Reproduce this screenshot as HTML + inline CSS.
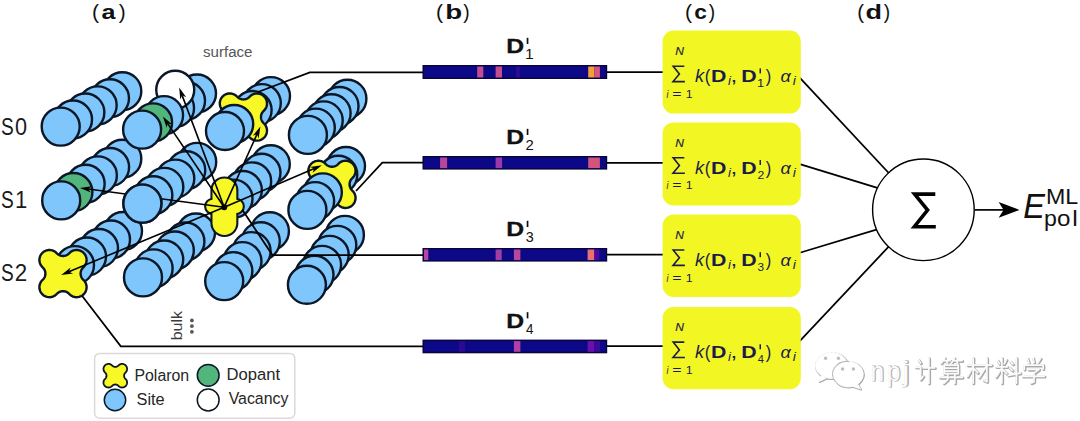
<!DOCTYPE html>
<html><head><meta charset="utf-8"><title>figure</title>
<style>
html,body{margin:0;padding:0;background:#fff;}
body{width:1080px;height:421px;overflow:hidden;font-family:"Liberation Sans",sans-serif;}
svg{display:block;}
</style></head><body>
<svg width="1080" height="421" viewBox="0 0 1080 421" font-family="'Liberation Sans', sans-serif">
<rect x="0" y="0" width="1080" height="421" fill="#ffffff"/>
<circle cx="123.00" cy="231.00" r="19.00" fill="#7ec6fb" stroke="#0b1626" stroke-width="2.40"/>
<circle cx="111.00" cy="239.52" r="19.00" fill="#7ec6fb" stroke="#0b1626" stroke-width="2.40"/>
<circle cx="99.00" cy="248.04" r="19.00" fill="#7ec6fb" stroke="#0b1626" stroke-width="2.40"/>
<circle cx="87.00" cy="256.56" r="19.00" fill="#7ec6fb" stroke="#0b1626" stroke-width="2.40"/>
<circle cx="75.00" cy="265.08" r="19.00" fill="#7ec6fb" stroke="#0b1626" stroke-width="2.40"/>
<path d="M6.21,-20.34 L7.19,-21.27 L8.27,-22.06 L9.46,-22.70 L10.72,-23.18 L12.03,-23.48 L13.37,-23.60 L14.72,-23.54 L16.04,-23.30 L17.32,-22.88 L18.53,-22.30 L19.66,-21.56 L20.67,-20.67 L21.56,-19.66 L22.30,-18.53 L22.88,-17.32 L23.30,-16.04 L23.54,-14.72 L23.60,-13.37 L23.48,-12.03 L23.18,-10.72 L22.70,-9.46 L22.06,-8.27 L21.27,-7.19 L20.34,-6.21 L19.93,-5.81 L19.54,-5.37 L19.18,-4.91 L18.86,-4.43 L18.57,-3.92 L18.32,-3.40 L18.10,-2.86 L17.92,-2.30 L17.78,-1.74 L17.68,-1.16 L17.62,-0.58 L17.60,0.00 L17.62,0.58 L17.68,1.16 L17.78,1.74 L17.92,2.30 L18.10,2.86 L18.32,3.40 L18.57,3.92 L18.86,4.43 L19.18,4.91 L19.54,5.37 L19.93,5.81 L20.34,6.21 L21.27,7.19 L22.06,8.27 L22.70,9.46 L23.18,10.72 L23.48,12.03 L23.60,13.37 L23.54,14.72 L23.30,16.04 L22.88,17.32 L22.30,18.53 L21.56,19.66 L20.67,20.67 L19.66,21.56 L18.53,22.30 L17.32,22.88 L16.04,23.30 L14.72,23.54 L13.37,23.60 L12.03,23.48 L10.72,23.18 L9.46,22.70 L8.27,22.06 L7.19,21.27 L6.21,20.34 L5.81,19.93 L5.37,19.54 L4.91,19.18 L4.43,18.86 L3.92,18.57 L3.40,18.32 L2.86,18.10 L2.30,17.92 L1.74,17.78 L1.16,17.68 L0.58,17.62 L0.00,17.60 L-0.58,17.62 L-1.16,17.68 L-1.74,17.78 L-2.30,17.92 L-2.86,18.10 L-3.40,18.32 L-3.92,18.57 L-4.43,18.86 L-4.91,19.18 L-5.37,19.54 L-5.81,19.93 L-6.21,20.34 L-7.19,21.27 L-8.27,22.06 L-9.46,22.70 L-10.72,23.18 L-12.03,23.48 L-13.37,23.60 L-14.72,23.54 L-16.04,23.30 L-17.32,22.88 L-18.53,22.30 L-19.66,21.56 L-20.67,20.67 L-21.56,19.66 L-22.30,18.53 L-22.88,17.32 L-23.30,16.04 L-23.54,14.72 L-23.60,13.37 L-23.48,12.03 L-23.18,10.72 L-22.70,9.46 L-22.06,8.27 L-21.27,7.19 L-20.34,6.21 L-19.93,5.81 L-19.54,5.37 L-19.18,4.91 L-18.86,4.43 L-18.57,3.92 L-18.32,3.40 L-18.10,2.86 L-17.92,2.30 L-17.78,1.74 L-17.68,1.16 L-17.62,0.58 L-17.60,0.00 L-17.62,-0.58 L-17.68,-1.16 L-17.78,-1.74 L-17.92,-2.30 L-18.10,-2.86 L-18.32,-3.40 L-18.57,-3.92 L-18.86,-4.43 L-19.18,-4.91 L-19.54,-5.37 L-19.93,-5.81 L-20.34,-6.21 L-21.27,-7.19 L-22.06,-8.27 L-22.70,-9.46 L-23.18,-10.72 L-23.48,-12.03 L-23.60,-13.37 L-23.54,-14.72 L-23.30,-16.04 L-22.88,-17.32 L-22.30,-18.53 L-21.56,-19.66 L-20.67,-20.67 L-19.66,-21.56 L-18.53,-22.30 L-17.32,-22.88 L-16.04,-23.30 L-14.72,-23.54 L-13.37,-23.60 L-12.03,-23.48 L-10.72,-23.18 L-9.46,-22.70 L-8.27,-22.06 L-7.19,-21.27 L-6.21,-20.34 L-5.81,-19.93 L-5.37,-19.54 L-4.91,-19.18 L-4.43,-18.86 L-3.92,-18.57 L-3.40,-18.32 L-2.86,-18.10 L-2.30,-17.92 L-1.74,-17.78 L-1.16,-17.68 L-0.58,-17.62 L-0.00,-17.60 L0.58,-17.62 L1.16,-17.68 L1.74,-17.78 L2.30,-17.92 L2.86,-18.10 L3.40,-18.32 L3.92,-18.57 L4.43,-18.86 L4.91,-19.18 L5.37,-19.54 L5.81,-19.93 Z" transform="translate(63.00 273.60) scale(1.000)" fill="#f8f826" stroke="#0b1626" stroke-width="2.40" stroke-linejoin="round"/>
<circle cx="196.00" cy="232.50" r="19.00" fill="#7ec6fb" stroke="#0b1626" stroke-width="2.40"/>
<circle cx="185.40" cy="241.48" r="19.00" fill="#7ec6fb" stroke="#0b1626" stroke-width="2.40"/>
<circle cx="174.80" cy="250.46" r="19.00" fill="#7ec6fb" stroke="#0b1626" stroke-width="2.40"/>
<circle cx="164.20" cy="259.44" r="19.00" fill="#7ec6fb" stroke="#0b1626" stroke-width="2.40"/>
<circle cx="153.60" cy="268.42" r="19.00" fill="#7ec6fb" stroke="#0b1626" stroke-width="2.40"/>
<circle cx="143.00" cy="277.40" r="19.00" fill="#7ec6fb" stroke="#0b1626" stroke-width="2.40"/>
<circle cx="269.90" cy="231.20" r="19.00" fill="#7ec6fb" stroke="#0b1626" stroke-width="2.40"/>
<circle cx="260.76" cy="241.18" r="19.00" fill="#7ec6fb" stroke="#0b1626" stroke-width="2.40"/>
<circle cx="251.62" cy="251.16" r="19.00" fill="#7ec6fb" stroke="#0b1626" stroke-width="2.40"/>
<circle cx="242.48" cy="261.14" r="19.00" fill="#7ec6fb" stroke="#0b1626" stroke-width="2.40"/>
<circle cx="233.34" cy="271.12" r="19.00" fill="#7ec6fb" stroke="#0b1626" stroke-width="2.40"/>
<circle cx="224.20" cy="281.10" r="19.00" fill="#7ec6fb" stroke="#0b1626" stroke-width="2.40"/>
<circle cx="344.90" cy="234.90" r="19.00" fill="#7ec6fb" stroke="#0b1626" stroke-width="2.40"/>
<circle cx="337.30" cy="244.88" r="19.00" fill="#7ec6fb" stroke="#0b1626" stroke-width="2.40"/>
<circle cx="329.70" cy="254.86" r="19.00" fill="#7ec6fb" stroke="#0b1626" stroke-width="2.40"/>
<circle cx="322.10" cy="264.84" r="19.00" fill="#7ec6fb" stroke="#0b1626" stroke-width="2.40"/>
<circle cx="314.50" cy="274.82" r="19.00" fill="#7ec6fb" stroke="#0b1626" stroke-width="2.40"/>
<circle cx="306.90" cy="284.80" r="19.00" fill="#7ec6fb" stroke="#0b1626" stroke-width="2.40"/>
<circle cx="122.30" cy="158.70" r="19.00" fill="#7ec6fb" stroke="#0b1626" stroke-width="2.40"/>
<circle cx="110.08" cy="167.04" r="19.00" fill="#7ec6fb" stroke="#0b1626" stroke-width="2.40"/>
<circle cx="97.86" cy="175.38" r="19.00" fill="#7ec6fb" stroke="#0b1626" stroke-width="2.40"/>
<circle cx="85.64" cy="183.72" r="19.00" fill="#7ec6fb" stroke="#0b1626" stroke-width="2.40"/>
<circle cx="73.42" cy="192.06" r="19.00" fill="#52b67c" stroke="#0b1626" stroke-width="2.40"/>
<circle cx="61.20" cy="200.40" r="19.00" fill="#7ec6fb" stroke="#0b1626" stroke-width="2.40"/>
<circle cx="197.20" cy="161.90" r="19.00" fill="#7ec6fb" stroke="#0b1626" stroke-width="2.40"/>
<circle cx="186.24" cy="170.24" r="19.00" fill="#7ec6fb" stroke="#0b1626" stroke-width="2.40"/>
<circle cx="175.28" cy="178.58" r="19.00" fill="#7ec6fb" stroke="#0b1626" stroke-width="2.40"/>
<circle cx="164.32" cy="186.92" r="19.00" fill="#7ec6fb" stroke="#0b1626" stroke-width="2.40"/>
<circle cx="153.36" cy="195.26" r="19.00" fill="#7ec6fb" stroke="#0b1626" stroke-width="2.40"/>
<circle cx="142.40" cy="203.60" r="19.00" fill="#7ec6fb" stroke="#0b1626" stroke-width="2.40"/>
<circle cx="270.80" cy="164.20" r="19.00" fill="#7ec6fb" stroke="#0b1626" stroke-width="2.40"/>
<circle cx="261.48" cy="172.80" r="19.00" fill="#7ec6fb" stroke="#0b1626" stroke-width="2.40"/>
<circle cx="252.16" cy="181.40" r="19.00" fill="#7ec6fb" stroke="#0b1626" stroke-width="2.40"/>
<circle cx="242.84" cy="190.00" r="19.00" fill="#7ec6fb" stroke="#0b1626" stroke-width="2.40"/>
<circle cx="233.52" cy="198.60" r="19.00" fill="#7ec6fb" stroke="#0b1626" stroke-width="2.40"/>
<!--center-->
<circle cx="346.00" cy="166.00" r="19.00" fill="#7ec6fb" stroke="#0b1626" stroke-width="2.40"/>
<circle cx="338.28" cy="174.78" r="19.00" fill="#7ec6fb" stroke="#0b1626" stroke-width="2.40"/>
<path d="M6.21,-20.34 L7.19,-21.27 L8.27,-22.06 L9.46,-22.70 L10.72,-23.18 L12.03,-23.48 L13.37,-23.60 L14.72,-23.54 L16.04,-23.30 L17.32,-22.88 L18.53,-22.30 L19.66,-21.56 L20.67,-20.67 L21.56,-19.66 L22.30,-18.53 L22.88,-17.32 L23.30,-16.04 L23.54,-14.72 L23.60,-13.37 L23.48,-12.03 L23.18,-10.72 L22.70,-9.46 L22.06,-8.27 L21.27,-7.19 L20.34,-6.21 L19.93,-5.81 L19.54,-5.37 L19.18,-4.91 L18.86,-4.43 L18.57,-3.92 L18.32,-3.40 L18.10,-2.86 L17.92,-2.30 L17.78,-1.74 L17.68,-1.16 L17.62,-0.58 L17.60,0.00 L17.62,0.58 L17.68,1.16 L17.78,1.74 L17.92,2.30 L18.10,2.86 L18.32,3.40 L18.57,3.92 L18.86,4.43 L19.18,4.91 L19.54,5.37 L19.93,5.81 L20.34,6.21 L21.27,7.19 L22.06,8.27 L22.70,9.46 L23.18,10.72 L23.48,12.03 L23.60,13.37 L23.54,14.72 L23.30,16.04 L22.88,17.32 L22.30,18.53 L21.56,19.66 L20.67,20.67 L19.66,21.56 L18.53,22.30 L17.32,22.88 L16.04,23.30 L14.72,23.54 L13.37,23.60 L12.03,23.48 L10.72,23.18 L9.46,22.70 L8.27,22.06 L7.19,21.27 L6.21,20.34 L5.81,19.93 L5.37,19.54 L4.91,19.18 L4.43,18.86 L3.92,18.57 L3.40,18.32 L2.86,18.10 L2.30,17.92 L1.74,17.78 L1.16,17.68 L0.58,17.62 L0.00,17.60 L-0.58,17.62 L-1.16,17.68 L-1.74,17.78 L-2.30,17.92 L-2.86,18.10 L-3.40,18.32 L-3.92,18.57 L-4.43,18.86 L-4.91,19.18 L-5.37,19.54 L-5.81,19.93 L-6.21,20.34 L-7.19,21.27 L-8.27,22.06 L-9.46,22.70 L-10.72,23.18 L-12.03,23.48 L-13.37,23.60 L-14.72,23.54 L-16.04,23.30 L-17.32,22.88 L-18.53,22.30 L-19.66,21.56 L-20.67,20.67 L-21.56,19.66 L-22.30,18.53 L-22.88,17.32 L-23.30,16.04 L-23.54,14.72 L-23.60,13.37 L-23.48,12.03 L-23.18,10.72 L-22.70,9.46 L-22.06,8.27 L-21.27,7.19 L-20.34,6.21 L-19.93,5.81 L-19.54,5.37 L-19.18,4.91 L-18.86,4.43 L-18.57,3.92 L-18.32,3.40 L-18.10,2.86 L-17.92,2.30 L-17.78,1.74 L-17.68,1.16 L-17.62,0.58 L-17.60,0.00 L-17.62,-0.58 L-17.68,-1.16 L-17.78,-1.74 L-17.92,-2.30 L-18.10,-2.86 L-18.32,-3.40 L-18.57,-3.92 L-18.86,-4.43 L-19.18,-4.91 L-19.54,-5.37 L-19.93,-5.81 L-20.34,-6.21 L-21.27,-7.19 L-22.06,-8.27 L-22.70,-9.46 L-23.18,-10.72 L-23.48,-12.03 L-23.60,-13.37 L-23.54,-14.72 L-23.30,-16.04 L-22.88,-17.32 L-22.30,-18.53 L-21.56,-19.66 L-20.67,-20.67 L-19.66,-21.56 L-18.53,-22.30 L-17.32,-22.88 L-16.04,-23.30 L-14.72,-23.54 L-13.37,-23.60 L-12.03,-23.48 L-10.72,-23.18 L-9.46,-22.70 L-8.27,-22.06 L-7.19,-21.27 L-6.21,-20.34 L-5.81,-19.93 L-5.37,-19.54 L-4.91,-19.18 L-4.43,-18.86 L-3.92,-18.57 L-3.40,-18.32 L-2.86,-18.10 L-2.30,-17.92 L-1.74,-17.78 L-1.16,-17.68 L-0.58,-17.62 L-0.00,-17.60 L0.58,-17.62 L1.16,-17.68 L1.74,-17.78 L2.30,-17.92 L2.86,-18.10 L3.40,-18.32 L3.92,-18.57 L4.43,-18.86 L4.91,-19.18 L5.37,-19.54 L5.81,-19.93 Z" transform="translate(331.96 184.36) scale(1.000)" fill="#f8f826" stroke="#0b1626" stroke-width="2.40" stroke-linejoin="round"/>
<circle cx="322.84" cy="192.34" r="19.00" fill="#7ec6fb" stroke="#0b1626" stroke-width="2.40"/>
<circle cx="315.12" cy="201.12" r="19.00" fill="#7ec6fb" stroke="#0b1626" stroke-width="2.40"/>
<circle cx="307.40" cy="209.90" r="19.00" fill="#7ec6fb" stroke="#0b1626" stroke-width="2.40"/>
<circle cx="122.30" cy="91.20" r="19.00" fill="#7ec6fb" stroke="#0b1626" stroke-width="2.40"/>
<circle cx="109.98" cy="98.28" r="19.00" fill="#7ec6fb" stroke="#0b1626" stroke-width="2.40"/>
<circle cx="97.66" cy="105.36" r="19.00" fill="#7ec6fb" stroke="#0b1626" stroke-width="2.40"/>
<circle cx="85.34" cy="112.44" r="19.00" fill="#7ec6fb" stroke="#0b1626" stroke-width="2.40"/>
<circle cx="73.02" cy="119.52" r="19.00" fill="#7ec6fb" stroke="#0b1626" stroke-width="2.40"/>
<circle cx="60.70" cy="126.60" r="19.00" fill="#7ec6fb" stroke="#0b1626" stroke-width="2.40"/>
<circle cx="197.00" cy="93.50" r="19.00" fill="#7ec6fb" stroke="#0b1626" stroke-width="2.40"/>
<circle cx="186.02" cy="100.72" r="19.00" fill="#7ec6fb" stroke="#0b1626" stroke-width="2.40"/>
<circle cx="175.04" cy="107.94" r="19.00" fill="#7ec6fb" stroke="#0b1626" stroke-width="2.40"/>
<circle cx="175.24" cy="89.74" r="19.00" fill="#ffffff" stroke="#0b1626" stroke-width="2.40"/>
<circle cx="164.06" cy="115.16" r="19.00" fill="#7ec6fb" stroke="#0b1626" stroke-width="2.40"/>
<circle cx="153.08" cy="122.38" r="19.00" fill="#52b67c" stroke="#0b1626" stroke-width="2.40"/>
<circle cx="142.10" cy="129.60" r="19.00" fill="#7ec6fb" stroke="#0b1626" stroke-width="2.40"/>
<circle cx="271.00" cy="96.10" r="19.00" fill="#7ec6fb" stroke="#0b1626" stroke-width="2.40"/>
<circle cx="261.80" cy="103.08" r="19.00" fill="#7ec6fb" stroke="#0b1626" stroke-width="2.40"/>
<circle cx="252.60" cy="110.06" r="19.00" fill="#7ec6fb" stroke="#0b1626" stroke-width="2.40"/>
<path d="M6.21,-20.34 L7.19,-21.27 L8.27,-22.06 L9.46,-22.70 L10.72,-23.18 L12.03,-23.48 L13.37,-23.60 L14.72,-23.54 L16.04,-23.30 L17.32,-22.88 L18.53,-22.30 L19.66,-21.56 L20.67,-20.67 L21.56,-19.66 L22.30,-18.53 L22.88,-17.32 L23.30,-16.04 L23.54,-14.72 L23.60,-13.37 L23.48,-12.03 L23.18,-10.72 L22.70,-9.46 L22.06,-8.27 L21.27,-7.19 L20.34,-6.21 L19.93,-5.81 L19.54,-5.37 L19.18,-4.91 L18.86,-4.43 L18.57,-3.92 L18.32,-3.40 L18.10,-2.86 L17.92,-2.30 L17.78,-1.74 L17.68,-1.16 L17.62,-0.58 L17.60,0.00 L17.62,0.58 L17.68,1.16 L17.78,1.74 L17.92,2.30 L18.10,2.86 L18.32,3.40 L18.57,3.92 L18.86,4.43 L19.18,4.91 L19.54,5.37 L19.93,5.81 L20.34,6.21 L21.27,7.19 L22.06,8.27 L22.70,9.46 L23.18,10.72 L23.48,12.03 L23.60,13.37 L23.54,14.72 L23.30,16.04 L22.88,17.32 L22.30,18.53 L21.56,19.66 L20.67,20.67 L19.66,21.56 L18.53,22.30 L17.32,22.88 L16.04,23.30 L14.72,23.54 L13.37,23.60 L12.03,23.48 L10.72,23.18 L9.46,22.70 L8.27,22.06 L7.19,21.27 L6.21,20.34 L5.81,19.93 L5.37,19.54 L4.91,19.18 L4.43,18.86 L3.92,18.57 L3.40,18.32 L2.86,18.10 L2.30,17.92 L1.74,17.78 L1.16,17.68 L0.58,17.62 L0.00,17.60 L-0.58,17.62 L-1.16,17.68 L-1.74,17.78 L-2.30,17.92 L-2.86,18.10 L-3.40,18.32 L-3.92,18.57 L-4.43,18.86 L-4.91,19.18 L-5.37,19.54 L-5.81,19.93 L-6.21,20.34 L-7.19,21.27 L-8.27,22.06 L-9.46,22.70 L-10.72,23.18 L-12.03,23.48 L-13.37,23.60 L-14.72,23.54 L-16.04,23.30 L-17.32,22.88 L-18.53,22.30 L-19.66,21.56 L-20.67,20.67 L-21.56,19.66 L-22.30,18.53 L-22.88,17.32 L-23.30,16.04 L-23.54,14.72 L-23.60,13.37 L-23.48,12.03 L-23.18,10.72 L-22.70,9.46 L-22.06,8.27 L-21.27,7.19 L-20.34,6.21 L-19.93,5.81 L-19.54,5.37 L-19.18,4.91 L-18.86,4.43 L-18.57,3.92 L-18.32,3.40 L-18.10,2.86 L-17.92,2.30 L-17.78,1.74 L-17.68,1.16 L-17.62,0.58 L-17.60,0.00 L-17.62,-0.58 L-17.68,-1.16 L-17.78,-1.74 L-17.92,-2.30 L-18.10,-2.86 L-18.32,-3.40 L-18.57,-3.92 L-18.86,-4.43 L-19.18,-4.91 L-19.54,-5.37 L-19.93,-5.81 L-20.34,-6.21 L-21.27,-7.19 L-22.06,-8.27 L-22.70,-9.46 L-23.18,-10.72 L-23.48,-12.03 L-23.60,-13.37 L-23.54,-14.72 L-23.30,-16.04 L-22.88,-17.32 L-22.30,-18.53 L-21.56,-19.66 L-20.67,-20.67 L-19.66,-21.56 L-18.53,-22.30 L-17.32,-22.88 L-16.04,-23.30 L-14.72,-23.54 L-13.37,-23.60 L-12.03,-23.48 L-10.72,-23.18 L-9.46,-22.70 L-8.27,-22.06 L-7.19,-21.27 L-6.21,-20.34 L-5.81,-19.93 L-5.37,-19.54 L-4.91,-19.18 L-4.43,-18.86 L-3.92,-18.57 L-3.40,-18.32 L-2.86,-18.10 L-2.30,-17.92 L-1.74,-17.78 L-1.16,-17.68 L-0.58,-17.62 L-0.00,-17.60 L0.58,-17.62 L1.16,-17.68 L1.74,-17.78 L2.30,-17.92 L2.86,-18.10 L3.40,-18.32 L3.92,-18.57 L4.43,-18.86 L4.91,-19.18 L5.37,-19.54 L5.81,-19.93 Z" transform="translate(243.40 117.04) scale(1.000)" fill="#f8f826" stroke="#0b1626" stroke-width="2.40" stroke-linejoin="round"/>
<circle cx="234.20" cy="124.02" r="19.00" fill="#7ec6fb" stroke="#0b1626" stroke-width="2.40"/>
<circle cx="225.00" cy="131.00" r="19.00" fill="#7ec6fb" stroke="#0b1626" stroke-width="2.40"/>
<circle cx="347.40" cy="98.70" r="19.00" fill="#7ec6fb" stroke="#0b1626" stroke-width="2.40"/>
<circle cx="339.50" cy="105.94" r="19.00" fill="#7ec6fb" stroke="#0b1626" stroke-width="2.40"/>
<circle cx="331.60" cy="113.18" r="19.00" fill="#7ec6fb" stroke="#0b1626" stroke-width="2.40"/>
<circle cx="323.70" cy="120.42" r="19.00" fill="#7ec6fb" stroke="#0b1626" stroke-width="2.40"/>
<circle cx="315.80" cy="127.66" r="19.00" fill="#7ec6fb" stroke="#0b1626" stroke-width="2.40"/>
<circle cx="307.90" cy="134.90" r="19.00" fill="#7ec6fb" stroke="#0b1626" stroke-width="2.40"/>
<rect x="212.50" y="178.50" width="23.80" height="56.40" rx="11.9" ry="11.9" fill="#0b1626" stroke="#0b1626" stroke-width="4.20"/>
<circle cx="212.80" cy="206.40" r="6.6" fill="#0b1626" stroke="#0b1626" stroke-width="4.20"/>
<circle cx="236.20" cy="206.40" r="6.6" fill="#0b1626" stroke="#0b1626" stroke-width="4.20"/>
<rect x="212.50" y="178.50" width="23.80" height="56.40" rx="11.9" ry="11.9" fill="#f8f826"/>
<circle cx="212.80" cy="206.40" r="6.6" fill="#f8f826"/>
<circle cx="236.20" cy="206.40" r="6.6" fill="#f8f826"/>
<polyline points="258.00,92.00 309.80,72.40 423.00,72.40" fill="none" stroke="#000" stroke-width="1.75" stroke-linejoin="miter"/>
<polyline points="356.00,191.00 382.30,162.60 423.00,162.60" fill="none" stroke="#000" stroke-width="1.75" stroke-linejoin="miter"/>
<polyline points="242.30,209.80 272.40,255.00 423.00,255.00" fill="none" stroke="#000" stroke-width="1.75" stroke-linejoin="miter"/>
<polyline points="82.20,296.00 120.80,346.40 423.00,346.40" fill="none" stroke="#000" stroke-width="1.75" stroke-linejoin="miter"/>
<line x1="224.20" y1="207.20" x2="182.12" y2="95.37" stroke="#000" stroke-width="1.60"/><polygon points="179.20,87.60 186.24,97.24 182.12,95.37 180.25,99.49" fill="#000"/>
<line x1="224.20" y1="207.20" x2="167.55" y2="123.38" stroke="#000" stroke-width="1.60"/><polygon points="162.90,116.50 171.99,124.24 167.55,123.38 166.69,127.82" fill="#000"/>
<line x1="224.20" y1="207.20" x2="88.13" y2="189.00" stroke="#000" stroke-width="1.60"/><polygon points="79.90,187.90 91.72,186.25 88.13,189.00 90.87,192.60" fill="#000"/>
<line x1="224.20" y1="207.20" x2="68.87" y2="271.72" stroke="#000" stroke-width="1.60"/><polygon points="61.20,274.90 70.59,267.53 68.87,271.72 73.05,273.44" fill="#000"/>
<line x1="224.20" y1="207.20" x2="257.00" y2="134.17" stroke="#000" stroke-width="1.60"/><polygon points="260.40,126.60 258.61,138.40 257.00,134.17 252.77,135.78" fill="#000"/>
<line x1="224.20" y1="207.20" x2="314.27" y2="168.57" stroke="#000" stroke-width="1.60"/><polygon points="321.90,165.30 312.59,172.77 314.27,168.57 310.07,166.89" fill="#000"/>
<circle cx="224.20" cy="207.20" r="3" fill="#000"/>
<circle cx="142.40" cy="203.60" r="19.00" fill="#7ec6fb" stroke="#0b1626" stroke-width="2.40"/>
<text transform="translate(0.92 134.70) scale(0.8092 1)" font-size="23.60" font-weight="normal" font-style="normal" fill="#1a1a1a" >S</text>
<text transform="translate(14.88 134.70) scale(0.9181 1)" font-size="23.60" font-weight="normal" font-style="normal" fill="#1a1a1a" >0</text>
<text transform="translate(0.92 208.40) scale(0.8092 1)" font-size="23.60" font-weight="normal" font-style="normal" fill="#1a1a1a" >S</text>
<text transform="translate(14.93 208.40) scale(0.9318 1)" font-size="23.60" font-weight="normal" font-style="normal" fill="#1a1a1a" >1</text>
<text transform="translate(0.92 281.40) scale(0.8092 1)" font-size="23.60" font-weight="normal" font-style="normal" fill="#1a1a1a" >S</text>
<text transform="translate(14.78 281.40) scale(0.9478 1)" font-size="23.60" font-weight="normal" font-style="normal" fill="#1a1a1a" >2</text>
<text x="203.00" y="56.70" font-size="15.10" font-weight="normal" font-style="normal" fill="#555" text-anchor="start" >surface</text>
<text transform="translate(181.8 340.3) rotate(-90) scale(1.04 0.96)" font-size="15.4" fill="#3c3c3c">bulk</text>
<circle cx="191.9" cy="320.4" r="1.9" fill="#555"/>
<circle cx="191.9" cy="326.1" r="1.9" fill="#555"/>
<circle cx="191.9" cy="331.8" r="1.9" fill="#555"/>
<text transform="translate(91.98 18.60) scale(1.0606 1)" font-size="20.00" font-weight="normal" font-style="normal" fill="#111" >(</text><text transform="translate(101.44 18.90) scale(1.1994 1)" font-size="21.00" font-weight="bold" font-style="normal" fill="#111" >a</text><text transform="translate(118.78 18.60) scale(1.0338 1)" font-size="20.00" font-weight="normal" font-style="normal" fill="#111" >)</text>
<text transform="translate(435.98 18.60) scale(1.0606 1)" font-size="20.00" font-weight="normal" font-style="normal" fill="#111" >(</text><text transform="translate(445.27 18.90) scale(1.3228 1)" font-size="21.00" font-weight="bold" font-style="normal" fill="#111" >b</text><text transform="translate(463.18 18.60) scale(0.9586 1)" font-size="20.00" font-weight="normal" font-style="normal" fill="#111" >)</text>
<text transform="translate(684.88 18.60) scale(1.0606 1)" font-size="20.00" font-weight="normal" font-style="normal" fill="#111" >(</text><text transform="translate(694.24 18.90) scale(1.0831 1)" font-size="21.00" font-weight="bold" font-style="normal" fill="#111" >c</text><text transform="translate(708.78 18.60) scale(0.9586 1)" font-size="20.00" font-weight="normal" font-style="normal" fill="#111" >)</text>
<text transform="translate(857.13 18.60) scale(1.0227 1)" font-size="20.00" font-weight="normal" font-style="normal" fill="#111" >(</text><text transform="translate(865.62 18.90) scale(1.2893 1)" font-size="21.00" font-weight="bold" font-style="normal" fill="#111" >d</text><text transform="translate(883.68 18.60) scale(0.9586 1)" font-size="20.00" font-weight="normal" font-style="normal" fill="#111" >)</text>
<rect x="94.6" y="353.4" width="200.2" height="64.8" rx="5" ry="5" fill="#fff" stroke="#dadada" stroke-width="1.5"/>
<path d="M6.21,-20.34 L7.19,-21.27 L8.27,-22.06 L9.46,-22.70 L10.72,-23.18 L12.03,-23.48 L13.37,-23.60 L14.72,-23.54 L16.04,-23.30 L17.32,-22.88 L18.53,-22.30 L19.66,-21.56 L20.67,-20.67 L21.56,-19.66 L22.30,-18.53 L22.88,-17.32 L23.30,-16.04 L23.54,-14.72 L23.60,-13.37 L23.48,-12.03 L23.18,-10.72 L22.70,-9.46 L22.06,-8.27 L21.27,-7.19 L20.34,-6.21 L19.93,-5.81 L19.54,-5.37 L19.18,-4.91 L18.86,-4.43 L18.57,-3.92 L18.32,-3.40 L18.10,-2.86 L17.92,-2.30 L17.78,-1.74 L17.68,-1.16 L17.62,-0.58 L17.60,0.00 L17.62,0.58 L17.68,1.16 L17.78,1.74 L17.92,2.30 L18.10,2.86 L18.32,3.40 L18.57,3.92 L18.86,4.43 L19.18,4.91 L19.54,5.37 L19.93,5.81 L20.34,6.21 L21.27,7.19 L22.06,8.27 L22.70,9.46 L23.18,10.72 L23.48,12.03 L23.60,13.37 L23.54,14.72 L23.30,16.04 L22.88,17.32 L22.30,18.53 L21.56,19.66 L20.67,20.67 L19.66,21.56 L18.53,22.30 L17.32,22.88 L16.04,23.30 L14.72,23.54 L13.37,23.60 L12.03,23.48 L10.72,23.18 L9.46,22.70 L8.27,22.06 L7.19,21.27 L6.21,20.34 L5.81,19.93 L5.37,19.54 L4.91,19.18 L4.43,18.86 L3.92,18.57 L3.40,18.32 L2.86,18.10 L2.30,17.92 L1.74,17.78 L1.16,17.68 L0.58,17.62 L0.00,17.60 L-0.58,17.62 L-1.16,17.68 L-1.74,17.78 L-2.30,17.92 L-2.86,18.10 L-3.40,18.32 L-3.92,18.57 L-4.43,18.86 L-4.91,19.18 L-5.37,19.54 L-5.81,19.93 L-6.21,20.34 L-7.19,21.27 L-8.27,22.06 L-9.46,22.70 L-10.72,23.18 L-12.03,23.48 L-13.37,23.60 L-14.72,23.54 L-16.04,23.30 L-17.32,22.88 L-18.53,22.30 L-19.66,21.56 L-20.67,20.67 L-21.56,19.66 L-22.30,18.53 L-22.88,17.32 L-23.30,16.04 L-23.54,14.72 L-23.60,13.37 L-23.48,12.03 L-23.18,10.72 L-22.70,9.46 L-22.06,8.27 L-21.27,7.19 L-20.34,6.21 L-19.93,5.81 L-19.54,5.37 L-19.18,4.91 L-18.86,4.43 L-18.57,3.92 L-18.32,3.40 L-18.10,2.86 L-17.92,2.30 L-17.78,1.74 L-17.68,1.16 L-17.62,0.58 L-17.60,0.00 L-17.62,-0.58 L-17.68,-1.16 L-17.78,-1.74 L-17.92,-2.30 L-18.10,-2.86 L-18.32,-3.40 L-18.57,-3.92 L-18.86,-4.43 L-19.18,-4.91 L-19.54,-5.37 L-19.93,-5.81 L-20.34,-6.21 L-21.27,-7.19 L-22.06,-8.27 L-22.70,-9.46 L-23.18,-10.72 L-23.48,-12.03 L-23.60,-13.37 L-23.54,-14.72 L-23.30,-16.04 L-22.88,-17.32 L-22.30,-18.53 L-21.56,-19.66 L-20.67,-20.67 L-19.66,-21.56 L-18.53,-22.30 L-17.32,-22.88 L-16.04,-23.30 L-14.72,-23.54 L-13.37,-23.60 L-12.03,-23.48 L-10.72,-23.18 L-9.46,-22.70 L-8.27,-22.06 L-7.19,-21.27 L-6.21,-20.34 L-5.81,-19.93 L-5.37,-19.54 L-4.91,-19.18 L-4.43,-18.86 L-3.92,-18.57 L-3.40,-18.32 L-2.86,-18.10 L-2.30,-17.92 L-1.74,-17.78 L-1.16,-17.68 L-0.58,-17.62 L-0.00,-17.60 L0.58,-17.62 L1.16,-17.68 L1.74,-17.78 L2.30,-17.92 L2.86,-18.10 L3.40,-18.32 L3.92,-18.57 L4.43,-18.86 L4.91,-19.18 L5.37,-19.54 L5.81,-19.93 Z" transform="translate(115.30 375.70) scale(0.500)" fill="#f8f826" stroke="#0b1626" stroke-width="3.60" stroke-linejoin="round"/>
<circle cx="115.00" cy="400.00" r="10.70" fill="#7ec6fb" stroke="#0b1626" stroke-width="1.50"/>
<circle cx="208.20" cy="375.30" r="10.90" fill="#52b67c" stroke="#0b1626" stroke-width="1.50"/>
<circle cx="208.20" cy="400.00" r="10.90" fill="#fff" stroke="#0b1626" stroke-width="1.50"/>
<text transform="translate(134.40 381.10) scale(1.0196 1)" font-size="15.60" font-weight="normal" font-style="normal" fill="#262626" >Polaron</text>
<text transform="translate(136.55 404.90) scale(1.0481 1)" font-size="15.60" font-weight="normal" font-style="normal" fill="#262626" >Site</text>
<text transform="translate(226.54 380.00) scale(1.0654 1)" font-size="15.60" font-weight="normal" font-style="normal" fill="#262626" >Dopant</text>
<text transform="translate(228.64 403.50) scale(1.0191 1)" font-size="15.60" font-weight="normal" font-style="normal" fill="#262626" >Vacancy</text>
<rect x="422.5" y="65.00" width="184.7" height="14.00" fill="#08053e"/>
<rect x="424" y="66.50" width="181.7" height="11.00" fill="#0d0887"/>
<rect x="477.20" y="66.50" width="6.10" height="11.00" fill="#c24e8e"/>
<rect x="495.60" y="66.50" width="6.40" height="11.00" fill="#c24e8e"/>
<rect x="516.00" y="66.50" width="4.00" height="11.00" fill="#2c0a91"/>
<rect x="588.20" y="66.50" width="6.20" height="11.00" fill="#f2a038"/>
<rect x="594.40" y="66.50" width="5.50" height="11.00" fill="#d8567c"/>
<rect x="422.5" y="156.00" width="184.7" height="13.60" fill="#08053e"/>
<rect x="424" y="157.50" width="181.7" height="10.60" fill="#0d0887"/>
<rect x="440.10" y="157.50" width="7.00" height="10.60" fill="#b8479c"/>
<rect x="495.60" y="157.50" width="6.50" height="10.60" fill="#9a3aa8"/>
<rect x="588.20" y="157.50" width="11.70" height="10.60" fill="#d4557c"/>
<rect x="422.5" y="248.00" width="184.7" height="13.60" fill="#08053e"/>
<rect x="424" y="249.50" width="181.7" height="10.60" fill="#0d0887"/>
<rect x="424.00" y="249.50" width="4.30" height="10.60" fill="#b445a0"/>
<rect x="495.60" y="249.50" width="6.10" height="10.60" fill="#a03fa2"/>
<rect x="513.90" y="249.50" width="6.50" height="10.60" fill="#b8489a"/>
<rect x="587.60" y="249.50" width="6.80" height="10.60" fill="#e87272"/>
<rect x="594.40" y="249.50" width="5.00" height="10.60" fill="#4a0aa0"/>
<rect x="422.5" y="339.60" width="184.7" height="13.70" fill="#08053e"/>
<rect x="424" y="341.10" width="181.7" height="10.70" fill="#0d0887"/>
<rect x="458.90" y="341.10" width="6.10" height="10.70" fill="#2a0a90"/>
<rect x="513.90" y="341.10" width="6.50" height="10.70" fill="#b040a2"/>
<rect x="587.60" y="341.10" width="6.80" height="10.70" fill="#6a12a8"/>
<rect x="594.40" y="341.10" width="5.60" height="10.70" fill="#3a0a9a"/>
<text transform="translate(506.17 53.40) scale(1.2017 1)" font-size="20.60" font-weight="bold" font-style="normal" fill="#111" stroke="#111" stroke-width="0.3">D</text><rect x="526.7" y="37.80" width="1.7" height="6.2" fill="#111"/><text transform="translate(525.00 59.20) scale(1.0781 1)" font-size="14.60" font-weight="normal" font-style="normal" fill="#111" >1</text>
<text transform="translate(506.17 144.40) scale(1.2017 1)" font-size="20.60" font-weight="bold" font-style="normal" fill="#111" stroke="#111" stroke-width="0.3">D</text><rect x="526.7" y="128.80" width="1.7" height="6.2" fill="#111"/><text transform="translate(525.45 150.20) scale(1.0214 1)" font-size="14.60" font-weight="normal" font-style="normal" fill="#111" >2</text>
<text transform="translate(506.17 236.40) scale(1.2017 1)" font-size="20.60" font-weight="bold" font-style="normal" fill="#111" stroke="#111" stroke-width="0.3">D</text><rect x="526.7" y="220.80" width="1.7" height="6.2" fill="#111"/><text transform="translate(525.65 242.20) scale(0.9826 1)" font-size="14.60" font-weight="normal" font-style="normal" fill="#111" >3</text>
<text transform="translate(506.17 327.80) scale(1.2017 1)" font-size="20.60" font-weight="bold" font-style="normal" fill="#111" stroke="#111" stroke-width="0.3">D</text><rect x="526.7" y="312.20" width="1.7" height="6.2" fill="#111"/><text transform="translate(525.90 333.60) scale(0.9205 1)" font-size="14.60" font-weight="normal" font-style="normal" fill="#111" >4</text>
<line x1="607" y1="72.20" x2="664" y2="72.20" stroke="#000" stroke-width="1.75"/>
<line x1="607" y1="162.80" x2="664" y2="162.80" stroke="#000" stroke-width="1.75"/>
<line x1="607" y1="254.60" x2="664" y2="254.60" stroke="#000" stroke-width="1.75"/>
<line x1="607" y1="346.20" x2="664" y2="346.20" stroke="#000" stroke-width="1.75"/>
<line x1="799" y1="76.80" x2="901.35" y2="186.51" stroke="#000" stroke-width="1.75"/>
<line x1="799" y1="163.90" x2="888.01" y2="191.04" stroke="#000" stroke-width="1.75"/>
<line x1="799" y1="253.00" x2="888.01" y2="226.20" stroke="#000" stroke-width="1.75"/>
<line x1="799" y1="341.80" x2="900.66" y2="233.93" stroke="#000" stroke-width="1.75"/>
<rect x="662.6" y="30.60" width="138.2" height="83.00" rx="11" ry="11" fill="#f2f724"/>
<text transform="translate(675.24 55.30) scale(1.1759 1)" font-size="10.20" font-weight="normal" font-style="italic" fill="#1c1c4a" stroke="#1c1c4a" stroke-width="0.15">N</text>
<path d="M684.3,66.20 L673.2,66.20 L679.4,74.00 L673.0,81.60 L684.9,81.60" fill="none" stroke="#1c1c4a" stroke-width="1.6" stroke-linejoin="miter"/>
<text transform="translate(666.46 97.80) scale(0.8435 1)" font-size="10.40" font-weight="normal" font-style="italic" fill="#1c1c4a" >i</text>
<text transform="translate(672.34 97.80) scale(1.5234 1)" font-size="10.40" font-weight="normal" font-style="normal" fill="#1c1c4a" >=</text>
<text transform="translate(685.65 97.80) scale(1.2019 1)" font-size="10.40" font-weight="normal" font-style="normal" fill="#1c1c4a" >1</text>
<text transform="translate(694.91 82.00) scale(1.0370 1)" font-size="17.60" font-weight="normal" font-style="italic" fill="#1c1c4a" >k</text>
<text transform="translate(704.77 82.00) scale(0.9470 1)" font-size="17.60" font-weight="normal" font-style="normal" fill="#1c1c4a" >(</text>
<text transform="translate(711.09 82.00) scale(1.2262 1)" font-size="17.40" font-weight="bold" font-style="normal" fill="#1c1c4a" >D</text>
<text transform="translate(727.99 85.40) scale(1.0611 1)" font-size="12.40" font-weight="normal" font-style="italic" fill="#1c1c4a" >i</text>
<text transform="translate(730.60 82.00) scale(1.3915 1)" font-size="17.60" font-weight="normal" font-style="normal" fill="#1c1c4a" >,</text>
<text transform="translate(741.19 82.00) scale(1.2262 1)" font-size="17.40" font-weight="bold" font-style="normal" fill="#1c1c4a" >D</text>
<rect x="759.5" y="68.40" width="1.5" height="5.0" fill="#1c1c4a"/>
<text transform="translate(757.01 87.20) scale(1.1371 1)" font-size="11.40" font-weight="normal" font-style="normal" fill="#1c1c4a" >1</text>
<text transform="translate(765.70 82.00) scale(0.9398 1)" font-size="17.60" font-weight="normal" font-style="normal" fill="#1c1c4a" >)</text>
<text transform="translate(780.59 82.00) scale(1.0865 1)" font-size="16.60" font-weight="normal" font-style="italic" fill="#1c1c4a" >α</text>
<text transform="translate(792.78 85.40) scale(1.1319 1)" font-size="12.40" font-weight="normal" font-style="italic" fill="#1c1c4a" >i</text>
<rect x="662.6" y="122.40" width="138.2" height="83.00" rx="11" ry="11" fill="#f2f724"/>
<text transform="translate(675.24 146.90) scale(1.1759 1)" font-size="10.20" font-weight="normal" font-style="italic" fill="#1c1c4a" stroke="#1c1c4a" stroke-width="0.15">N</text>
<path d="M684.3,157.80 L673.2,157.80 L679.4,165.60 L673.0,173.20 L684.9,173.20" fill="none" stroke="#1c1c4a" stroke-width="1.6" stroke-linejoin="miter"/>
<text transform="translate(666.46 189.40) scale(0.8435 1)" font-size="10.40" font-weight="normal" font-style="italic" fill="#1c1c4a" >i</text>
<text transform="translate(672.34 189.40) scale(1.5234 1)" font-size="10.40" font-weight="normal" font-style="normal" fill="#1c1c4a" >=</text>
<text transform="translate(685.65 189.40) scale(1.2019 1)" font-size="10.40" font-weight="normal" font-style="normal" fill="#1c1c4a" >1</text>
<text transform="translate(694.91 173.60) scale(1.0370 1)" font-size="17.60" font-weight="normal" font-style="italic" fill="#1c1c4a" >k</text>
<text transform="translate(704.77 173.60) scale(0.9470 1)" font-size="17.60" font-weight="normal" font-style="normal" fill="#1c1c4a" >(</text>
<text transform="translate(711.09 173.60) scale(1.2262 1)" font-size="17.40" font-weight="bold" font-style="normal" fill="#1c1c4a" >D</text>
<text transform="translate(727.99 177.00) scale(1.0611 1)" font-size="12.40" font-weight="normal" font-style="italic" fill="#1c1c4a" >i</text>
<text transform="translate(730.60 173.60) scale(1.3915 1)" font-size="17.60" font-weight="normal" font-style="normal" fill="#1c1c4a" >,</text>
<text transform="translate(741.19 173.60) scale(1.2262 1)" font-size="17.40" font-weight="bold" font-style="normal" fill="#1c1c4a" >D</text>
<rect x="759.5" y="160.00" width="1.5" height="5.0" fill="#1c1c4a"/>
<text transform="translate(757.39 178.80) scale(1.0773 1)" font-size="11.40" font-weight="normal" font-style="normal" fill="#1c1c4a" >2</text>
<text transform="translate(765.70 173.60) scale(0.9398 1)" font-size="17.60" font-weight="normal" font-style="normal" fill="#1c1c4a" >)</text>
<text transform="translate(780.59 173.60) scale(1.0865 1)" font-size="16.60" font-weight="normal" font-style="italic" fill="#1c1c4a" >α</text>
<text transform="translate(792.78 177.00) scale(1.1319 1)" font-size="12.40" font-weight="normal" font-style="italic" fill="#1c1c4a" >i</text>
<rect x="662.6" y="214.50" width="138.2" height="82.50" rx="11" ry="11" fill="#f2f724"/>
<text transform="translate(675.24 239.10) scale(1.1759 1)" font-size="10.20" font-weight="normal" font-style="italic" fill="#1c1c4a" stroke="#1c1c4a" stroke-width="0.15">N</text>
<path d="M684.3,250.00 L673.2,250.00 L679.4,257.80 L673.0,265.40 L684.9,265.40" fill="none" stroke="#1c1c4a" stroke-width="1.6" stroke-linejoin="miter"/>
<text transform="translate(666.46 281.60) scale(0.8435 1)" font-size="10.40" font-weight="normal" font-style="italic" fill="#1c1c4a" >i</text>
<text transform="translate(672.34 281.60) scale(1.5234 1)" font-size="10.40" font-weight="normal" font-style="normal" fill="#1c1c4a" >=</text>
<text transform="translate(685.65 281.60) scale(1.2019 1)" font-size="10.40" font-weight="normal" font-style="normal" fill="#1c1c4a" >1</text>
<text transform="translate(694.91 265.80) scale(1.0370 1)" font-size="17.60" font-weight="normal" font-style="italic" fill="#1c1c4a" >k</text>
<text transform="translate(704.77 265.80) scale(0.9470 1)" font-size="17.60" font-weight="normal" font-style="normal" fill="#1c1c4a" >(</text>
<text transform="translate(711.09 265.80) scale(1.2262 1)" font-size="17.40" font-weight="bold" font-style="normal" fill="#1c1c4a" >D</text>
<text transform="translate(727.99 269.20) scale(1.0611 1)" font-size="12.40" font-weight="normal" font-style="italic" fill="#1c1c4a" >i</text>
<text transform="translate(730.60 265.80) scale(1.3915 1)" font-size="17.60" font-weight="normal" font-style="normal" fill="#1c1c4a" >,</text>
<text transform="translate(741.19 265.80) scale(1.2262 1)" font-size="17.40" font-weight="bold" font-style="normal" fill="#1c1c4a" >D</text>
<rect x="759.5" y="252.20" width="1.5" height="5.0" fill="#1c1c4a"/>
<text transform="translate(757.55 271.00) scale(1.0363 1)" font-size="11.40" font-weight="normal" font-style="normal" fill="#1c1c4a" >3</text>
<text transform="translate(765.70 265.80) scale(0.9398 1)" font-size="17.60" font-weight="normal" font-style="normal" fill="#1c1c4a" >)</text>
<text transform="translate(780.59 265.80) scale(1.0865 1)" font-size="16.60" font-weight="normal" font-style="italic" fill="#1c1c4a" >α</text>
<text transform="translate(792.78 269.20) scale(1.1319 1)" font-size="12.40" font-weight="normal" font-style="italic" fill="#1c1c4a" >i</text>
<rect x="662.6" y="307.00" width="138.2" height="82.30" rx="11" ry="11" fill="#f2f724"/>
<text transform="translate(675.24 331.20) scale(1.1759 1)" font-size="10.20" font-weight="normal" font-style="italic" fill="#1c1c4a" stroke="#1c1c4a" stroke-width="0.15">N</text>
<path d="M684.3,342.10 L673.2,342.10 L679.4,349.90 L673.0,357.50 L684.9,357.50" fill="none" stroke="#1c1c4a" stroke-width="1.6" stroke-linejoin="miter"/>
<text transform="translate(666.46 373.70) scale(0.8435 1)" font-size="10.40" font-weight="normal" font-style="italic" fill="#1c1c4a" >i</text>
<text transform="translate(672.34 373.70) scale(1.5234 1)" font-size="10.40" font-weight="normal" font-style="normal" fill="#1c1c4a" >=</text>
<text transform="translate(685.65 373.70) scale(1.2019 1)" font-size="10.40" font-weight="normal" font-style="normal" fill="#1c1c4a" >1</text>
<text transform="translate(694.91 357.90) scale(1.0370 1)" font-size="17.60" font-weight="normal" font-style="italic" fill="#1c1c4a" >k</text>
<text transform="translate(704.77 357.90) scale(0.9470 1)" font-size="17.60" font-weight="normal" font-style="normal" fill="#1c1c4a" >(</text>
<text transform="translate(711.09 357.90) scale(1.2262 1)" font-size="17.40" font-weight="bold" font-style="normal" fill="#1c1c4a" >D</text>
<text transform="translate(727.99 361.30) scale(1.0611 1)" font-size="12.40" font-weight="normal" font-style="italic" fill="#1c1c4a" >i</text>
<text transform="translate(730.60 357.90) scale(1.3915 1)" font-size="17.60" font-weight="normal" font-style="normal" fill="#1c1c4a" >,</text>
<text transform="translate(741.19 357.90) scale(1.2262 1)" font-size="17.40" font-weight="bold" font-style="normal" fill="#1c1c4a" >D</text>
<rect x="759.5" y="344.30" width="1.5" height="5.0" fill="#1c1c4a"/>
<text transform="translate(757.76 363.10) scale(0.9708 1)" font-size="11.40" font-weight="normal" font-style="normal" fill="#1c1c4a" >4</text>
<text transform="translate(765.70 357.90) scale(0.9398 1)" font-size="17.60" font-weight="normal" font-style="normal" fill="#1c1c4a" >)</text>
<text transform="translate(780.59 357.90) scale(1.0865 1)" font-size="16.60" font-weight="normal" font-style="italic" fill="#1c1c4a" >α</text>
<text transform="translate(792.78 361.30) scale(1.1319 1)" font-size="12.40" font-weight="normal" font-style="italic" fill="#1c1c4a" >i</text>
<circle cx="923.40" cy="209.80" r="50.80" fill="#fff" stroke="#000" stroke-width="1.4"/>
<path d="M935.3,194.15 L914.6,194.15 L927.6,210.0 L914.3,226.7 L935.8,226.7" fill="none" stroke="#000" stroke-width="3.6" stroke-linejoin="miter"/>
<line x1="974.5" y1="209.9" x2="1004" y2="209.9" stroke="#000" stroke-width="1.7"/>
<polygon points="1019.4,209.9 998.6,202.0 1003.6,209.9 998.6,217.8" fill="#000"/>
<text transform="translate(1023.32 217.50) scale(0.9341 1)" font-size="34.80" font-weight="normal" font-style="italic" fill="#111" >E</text>
<text transform="translate(1045.90 204.20) scale(1.0227 1)" font-size="22.70" font-weight="normal" font-style="normal" fill="#111" >ML</text>
<text transform="translate(1043.92 226.20) scale(1.0317 1)" font-size="22.40" font-weight="normal" font-style="normal" fill="#111" >p</text><text transform="translate(1056.99 226.20) scale(1.0782 1)" font-size="22.40" font-weight="normal" font-style="normal" fill="#111" >o</text><text transform="translate(1072.20 226.20) scale(1.1161 1)" font-size="22.40" font-weight="normal" font-style="normal" fill="#111" >l</text>
<path d="M831.4,352.4 a16,13 0 1 0 0.1,0 z M821.5,375.5 l-2.5,6 l7,-3.2" fill="#fff" stroke="#a9a9a9" stroke-width="1.8" stroke-linejoin="round" transform="translate(0.6 0.7)"/><path d="M848.2,361.4 a15,12.8 0 1 0 0.1,0 z M857.5,384.0 l3.0,5.0 l-7.5,-2.6" fill="#fff" stroke="#a9a9a9" stroke-width="1.8" stroke-linejoin="round" transform="translate(0.6 0.7)"/>
<path d="M831.4,352.4 a16,13 0 1 0 0.1,0 z M821.5,375.5 l-2.5,6 l7,-3.2" fill="#fff" stroke="#fdfdfd" stroke-width="0.9" stroke-linejoin="round"/><path d="M848.2,361.4 a15,12.8 0 1 0 0.1,0 z M857.5,384.0 l3.0,5.0 l-7.5,-2.6" fill="#fff" stroke="#fdfdfd" stroke-width="0.9" stroke-linejoin="round"/>
<path d="M835.2,381.5 A15,12.8 0 0 1 849.5,361.5" fill="none" stroke="#b8b8b8" stroke-width="1.1"/>
<circle cx="825.6" cy="358.2" r="1.7" fill="#bdbdbd"/>
<circle cx="838.4" cy="358.2" r="1.7" fill="#bdbdbd"/>
<circle cx="842.6" cy="369.0" r="1.7" fill="#bdbdbd"/>
<circle cx="853.4" cy="369.0" r="1.7" fill="#bdbdbd"/>
<g transform="translate(0.8 0.8)"><text transform="translate(870.82 380.60) scale(0.8551 1)" font-size="28.00" font-weight="normal" font-style="normal" fill="#a9a9a9" stroke="#a9a9a9" stroke-width="0.9">n</text><text transform="translate(887.06 380.60) scale(0.8571 1)" font-size="28.00" font-weight="normal" font-style="normal" fill="#a9a9a9" stroke="#a9a9a9" stroke-width="0.9">p</text><text transform="translate(902.37 380.60) scale(1.1508 1)" font-size="28.00" font-weight="normal" font-style="normal" fill="#a9a9a9" stroke="#a9a9a9" stroke-width="0.9">j</text></g>
<text transform="translate(870.82 380.60) scale(0.8551 1)" font-size="28.00" font-weight="normal" font-style="normal" fill="#fbfbfb" >n</text><text transform="translate(887.06 380.60) scale(0.8571 1)" font-size="28.00" font-weight="normal" font-style="normal" fill="#fbfbfb" >p</text><text transform="translate(902.37 380.60) scale(1.1508 1)" font-size="28.00" font-weight="normal" font-style="normal" fill="#fbfbfb" >j</text>
<path d="M918.60,359.86 L920.65,363.05 M915.73,367.31 L920.65,367.31 L920.65,379.54 L923.11,376.35 M923.11,367.84 L934.59,367.84 M928.85,358.26 L928.85,383.27 M944.76,358.26 L941.40,363.05 M943.32,360.66 L950.04,360.66 M946.20,360.66 L947.40,363.32 M954.36,358.26 L951.48,363.05 M952.92,360.66 L962.04,360.66 M956.28,360.66 L957.48,363.32 M944.28,365.18 L958.20,365.18 L958.20,373.69 L944.28,373.69 L944.28,365.18 M944.28,368.11 L958.20,368.11 M944.28,371.03 L958.20,371.03 M939.96,377.42 L962.28,377.42 M947.64,373.69 L947.64,379.54 L943.80,383.27 M954.84,373.69 L954.84,383.27 M967.52,365.18 L978.23,365.18 M973.13,358.26 L973.13,383.27 M973.13,366.24 L967.77,376.35 M973.13,367.84 L977.72,372.63 M979.25,365.18 L991.49,365.18 M986.90,358.26 L986.90,381.67 L983.84,380.08 M986.39,366.24 L979.25,377.42 M997.55,360.39 L999.59,363.85 M1006.22,359.86 L1004.18,363.85 M996.02,366.78 L1007.24,366.78 M1001.88,358.26 L1001.88,383.27 M1001.88,367.84 L996.27,376.88 M1001.88,368.90 L1006.73,373.69 M1010.30,361.46 L1012.85,364.12 M1009.79,367.84 L1012.34,370.50 M1008.26,375.29 L1020.25,373.16 M1016.42,358.26 L1016.42,383.27 M1027.52,358.80 L1028.90,363.05 M1033.04,358.26 L1033.96,362.52 M1040.40,358.53 L1037.64,363.05 M1024.30,369.44 L1024.30,365.18 L1043.16,365.18 L1043.16,368.90 M1028.44,369.44 L1039.02,369.44 L1033.96,373.16 L1033.96,381.94 L1031.20,383.00 M1022.92,376.35 L1044.31,376.35" fill="none" stroke="#a9a9a9" stroke-width="2.9" stroke-linecap="round" stroke-linejoin="round" transform="translate(0.8 0.8)"/>
<path d="M918.60,359.86 L920.65,363.05 M915.73,367.31 L920.65,367.31 L920.65,379.54 L923.11,376.35 M923.11,367.84 L934.59,367.84 M928.85,358.26 L928.85,383.27 M944.76,358.26 L941.40,363.05 M943.32,360.66 L950.04,360.66 M946.20,360.66 L947.40,363.32 M954.36,358.26 L951.48,363.05 M952.92,360.66 L962.04,360.66 M956.28,360.66 L957.48,363.32 M944.28,365.18 L958.20,365.18 L958.20,373.69 L944.28,373.69 L944.28,365.18 M944.28,368.11 L958.20,368.11 M944.28,371.03 L958.20,371.03 M939.96,377.42 L962.28,377.42 M947.64,373.69 L947.64,379.54 L943.80,383.27 M954.84,373.69 L954.84,383.27 M967.52,365.18 L978.23,365.18 M973.13,358.26 L973.13,383.27 M973.13,366.24 L967.77,376.35 M973.13,367.84 L977.72,372.63 M979.25,365.18 L991.49,365.18 M986.90,358.26 L986.90,381.67 L983.84,380.08 M986.39,366.24 L979.25,377.42 M997.55,360.39 L999.59,363.85 M1006.22,359.86 L1004.18,363.85 M996.02,366.78 L1007.24,366.78 M1001.88,358.26 L1001.88,383.27 M1001.88,367.84 L996.27,376.88 M1001.88,368.90 L1006.73,373.69 M1010.30,361.46 L1012.85,364.12 M1009.79,367.84 L1012.34,370.50 M1008.26,375.29 L1020.25,373.16 M1016.42,358.26 L1016.42,383.27 M1027.52,358.80 L1028.90,363.05 M1033.04,358.26 L1033.96,362.52 M1040.40,358.53 L1037.64,363.05 M1024.30,369.44 L1024.30,365.18 L1043.16,365.18 L1043.16,368.90 M1028.44,369.44 L1039.02,369.44 L1033.96,373.16 L1033.96,381.94 L1031.20,383.00 M1022.92,376.35 L1044.31,376.35" fill="none" stroke="#fbfbfb" stroke-width="1.7" stroke-linecap="round" stroke-linejoin="round"/>
</svg>
</body></html>
